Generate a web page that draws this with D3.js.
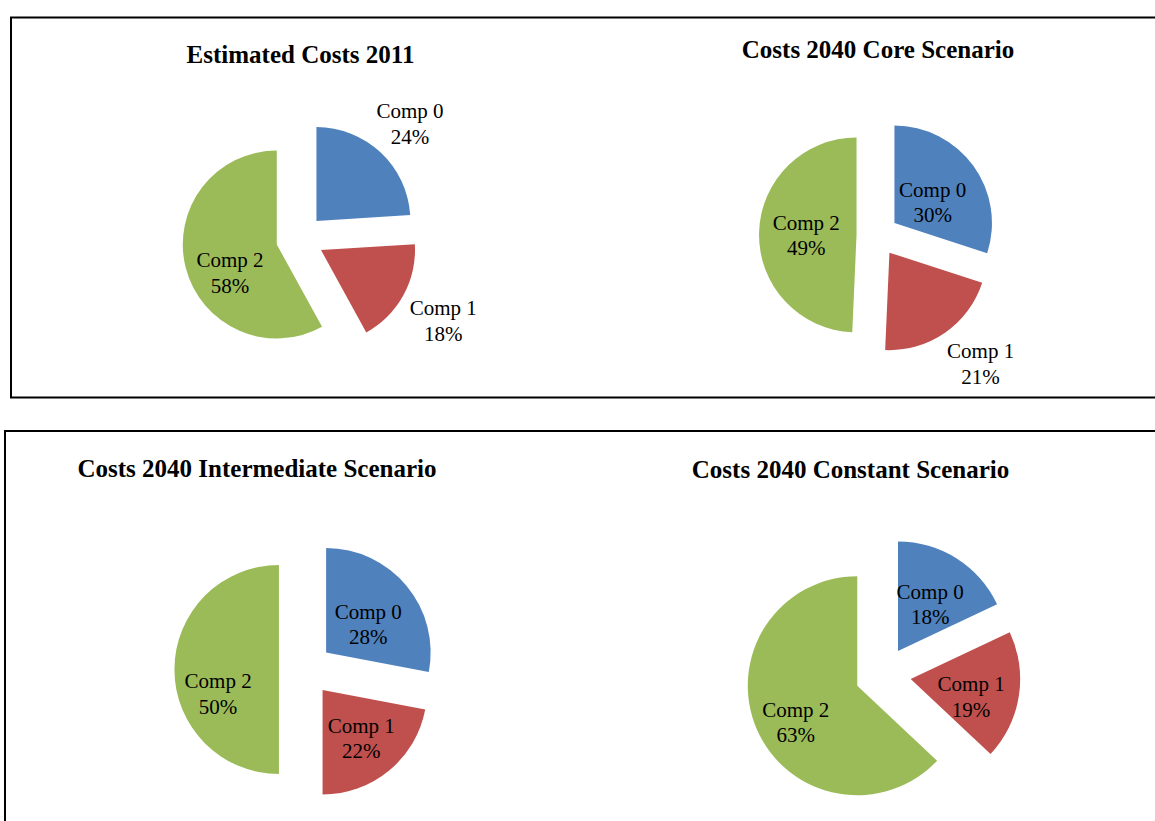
<!DOCTYPE html>
<html>
<head>
<meta charset="utf-8">
<script src="https://cdn.jsdelivr.net/npm/d3@7"></script>
<style>
  html, body { margin: 0; padding: 0; background: #ffffff; }
  svg { display: block; }
</style>
</head>
<body>
<svg id="chart" width="1155" height="821"></svg>
<script>
// ---------- DATA ----------
const categories = ["Comp 0", "Comp 1", "Comp 2"];
const chartTitles = [
  "Estimated Costs 2011",
  "Costs 2040 Core Scenario",
  "Costs 2040 Intermediate Scenario",
  "Costs 2040 Constant Scenario"
];
const estimated2011 = [24, 18, 58];
const core2040 = [30, 20.7, 49.3];
const intermediate2040 = [28, 22, 50];
const constant2040 = [18, 19, 63];
const seriesList = [estimated2011, core2040, intermediate2040, constant2040];

// ---------- STYLE / LAYOUT ----------
const colors = ["#4F81BD", "#C0504D", "#9BBB59"];
const color = d3.scaleOrdinal().domain(categories).range(colors);

// pie centre, radius, explosion (fraction of radius), title position
const layout = [
  { cx: 300, cy: 238.5, r: 94,    explode: 0.255, tx: 300.5, ty: 63 },
  { cx: 877.5, cy: 235.4, r: 97.5,  explode: 0.215, tx: 878,   ty: 58 },
  { cx: 305.6, cy: 669.5, r: 104.5, explode: 0.255, tx: 257,  ty: 477 },
  { cx: 883, cy: 674.6, r: 109.5, explode: 0.256, tx: 850.5, ty: 477.5 }
];
// label placement per slice: [radius factor, angle offset (deg) from slice mid-angle]
const labelPlacement = [
  [[1.69, 0.6], [1.76, 1.2], [0.83, -11.8]],
  [[0.66, 5.0], [1.69, -4.0], [0.73, -1.5]],
  [[0.74, 3.8], [0.85, 0.8], [0.87, -15.7]],
  [[0.77, 1.6], [0.83, 5.2], [0.91, -5.4]]
];

const svg = d3.select("#chart");

// panel frames
const frames = svg.append("g")
  .attr("fill", "none").attr("stroke", "#000").attr("stroke-width", 2);
// top panel (right edge runs off the page)
frames.append("path").attr("d", "M1160,17.5 H11 V397.5 H1160");
// bottom panel (right and bottom run off the page)
frames.append("path").attr("d", "M1160,431 H5 V830");

const pie = d3.pie().sort(null).value(d => d);
const toRad = Math.PI / 180;

seriesList.forEach((series, i) => {
  const L = layout[i];
  const g = svg.append("g").attr("transform", `translate(${L.cx},${L.cy})`);
  const arcs = pie(series);
  const arc = d3.arc().innerRadius(0).outerRadius(L.r);
  const shift = d3.arc().innerRadius(L.explode * L.r).outerRadius(L.explode * L.r);

  g.selectAll("path.slice")
    .data(arcs)
    .join("path")
    .attr("class", "slice")
    .attr("d", arc)
    .attr("fill", (d, j) => color(categories[j]))
    .attr("transform", d => {
      const c = shift.centroid(d);
      return `translate(${c[0]},${c[1]})`;
    });

  // data labels
  const total = d3.sum(series);
  arcs.forEach((d, j) => {
    const [k, off] = labelPlacement[i][j];
    const a = (d.startAngle + d.endAngle) / 2 + off * toRad;
    const la = d3.arc().innerRadius(k * L.r).outerRadius(k * L.r);
    const p = la.centroid({ startAngle: a, endAngle: a });
    const t = g.append("text")
      .attr("text-anchor", "middle")
      .attr("font-family", "'Liberation Serif', 'Times New Roman', serif")
      .attr("font-size", 21)
      .attr("fill", "#000");
    t.append("tspan").attr("x", p[0]).attr("y", p[1] - 5.75).text(categories[j]);
    t.append("tspan").attr("x", p[0]).attr("y", p[1] + 19.75)
      .text(Math.round(d.data / total * 100) + "%");
  });

  // title
  svg.append("text")
    .attr("x", L.tx).attr("y", L.ty)
    .attr("text-anchor", "middle")
    .attr("font-family", "'Liberation Serif', 'Times New Roman', serif")
    .attr("font-weight", "bold")
    .attr("font-size", 25)
    .attr("fill", "#000")
    .text(chartTitles[i]);
});
</script>
</body>
</html>
